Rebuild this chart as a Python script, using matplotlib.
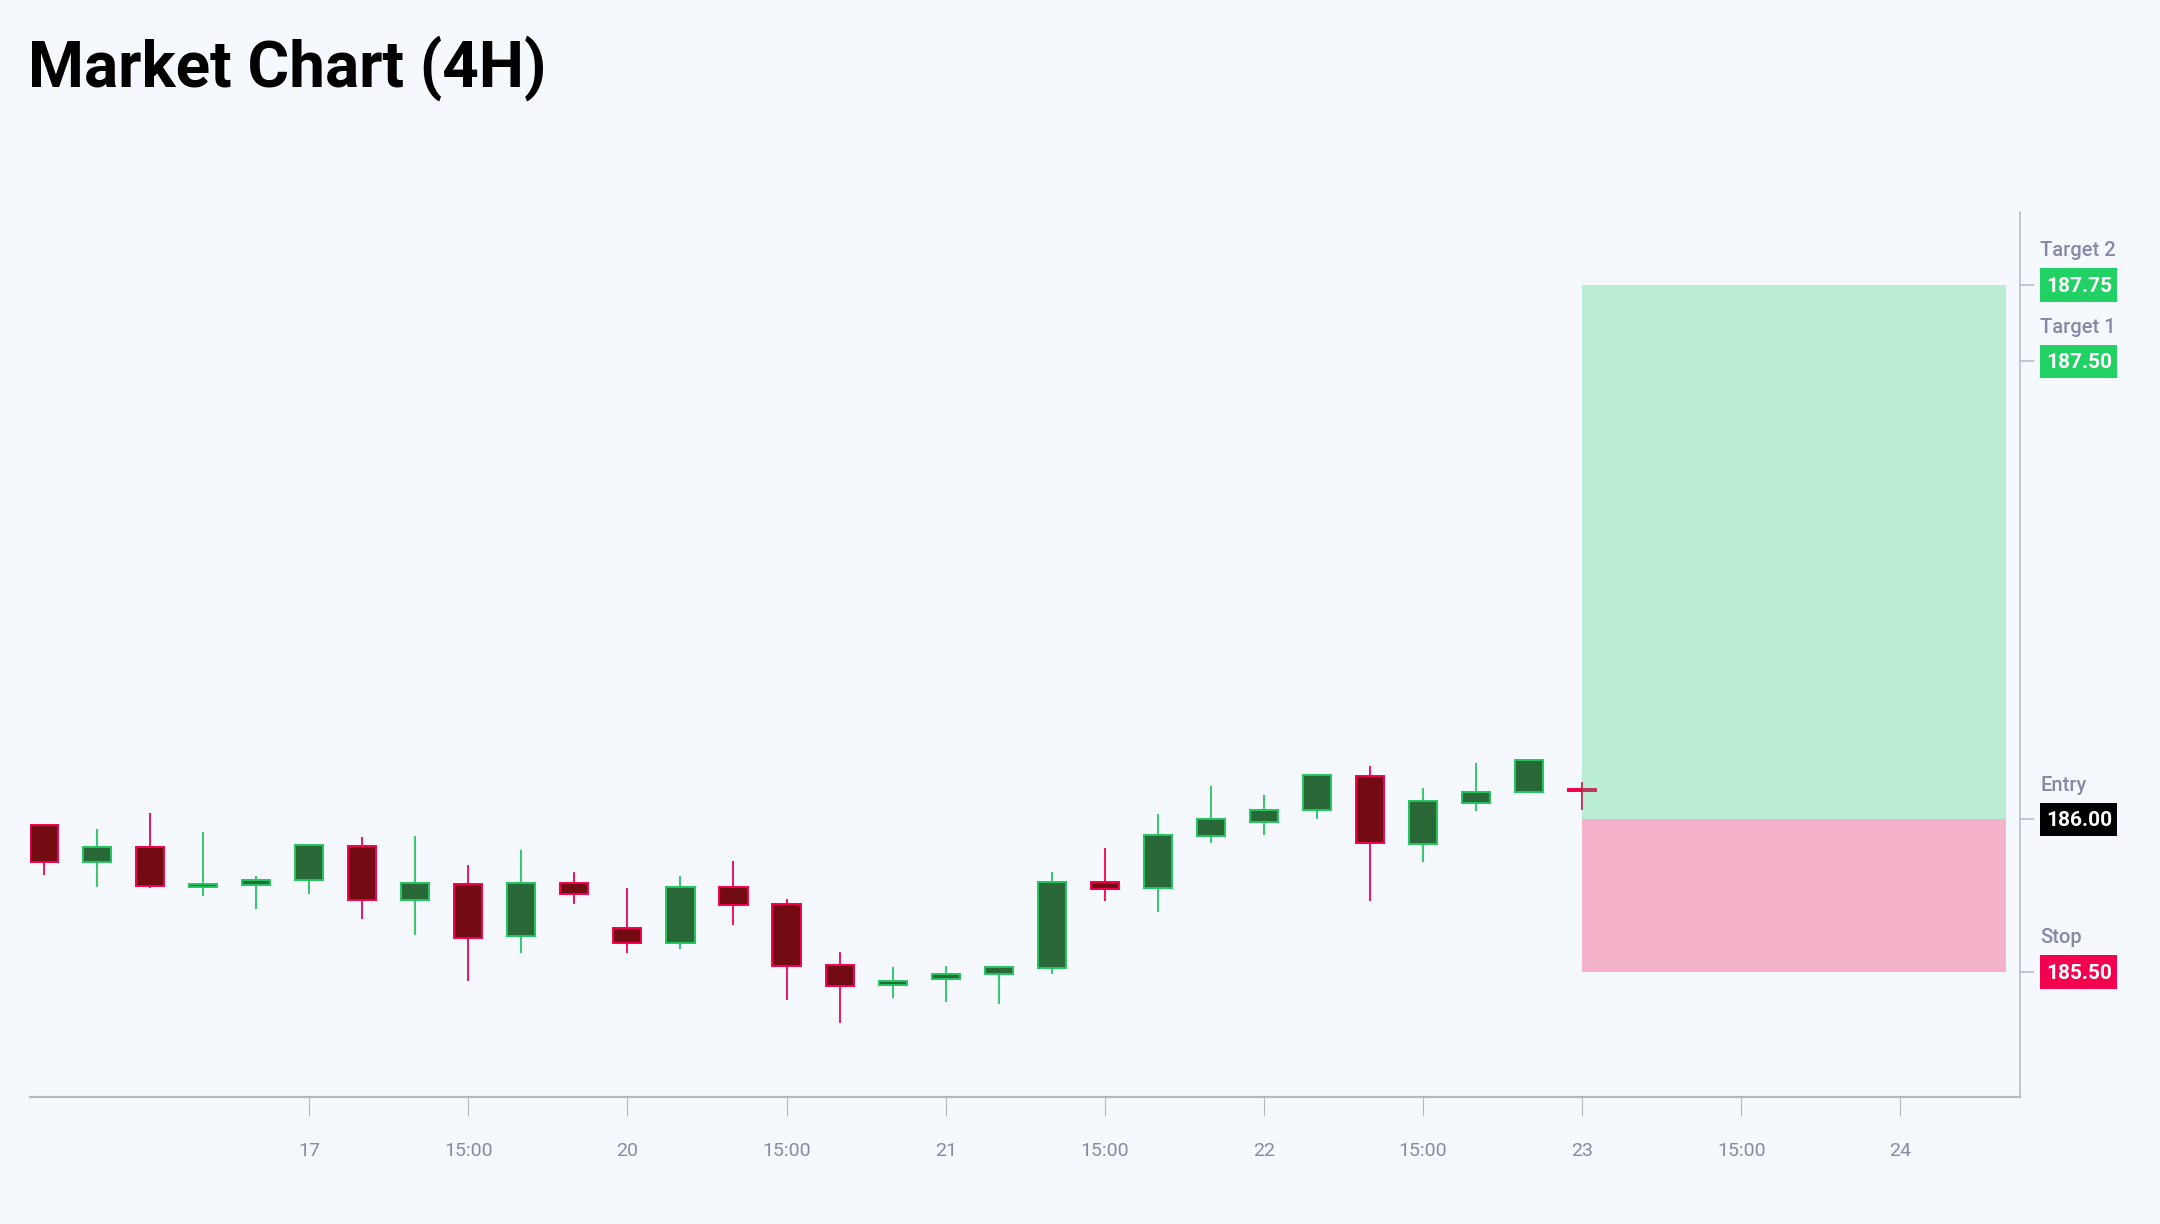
import matplotlib.pyplot as plt
from matplotlib.patches import Rectangle
from matplotlib.transforms import blended_transform_factory

plt.rcParams['font.family'] = ['Roboto', 'DejaVu Sans']

# 4H candles
opens = [185.98, 185.86, 185.91, 185.778, 185.785, 185.803, 185.914, 185.735, 185.789, 185.618,
         185.793, 185.644, 185.596, 185.778, 185.724, 185.522, 185.456, 185.477, 185.493, 185.513,
         185.794, 185.775, 185.945, 185.992, 186.03, 186.143, 185.92, 186.054, 186.089, 186.10]
highs = [185.985, 185.968, 186.021, 185.958, 185.815, 185.919, 185.943, 185.946, 185.85, 185.90,
         185.829, 185.775, 185.814, 185.863, 185.739, 185.566, 185.517, 185.519, 185.521, 185.827,
         185.906, 186.018, 186.11, 186.08, 186.149, 186.176, 186.102, 186.186, 186.194, 186.122]
lows = [185.817, 185.778, 185.775, 185.749, 185.705, 185.756, 185.675, 185.621, 185.471, 185.563,
        185.724, 185.563, 185.575, 185.655, 185.409, 185.334, 185.414, 185.403, 185.395, 185.494,
        185.733, 185.698, 185.921, 185.95, 186.002, 185.733, 185.86, 186.029, 186.086, 186.032]
closes = [185.86, 185.911, 185.783, 185.788, 185.80, 185.915, 185.735, 185.79, 185.613, 185.791,
          185.756, 185.594, 185.779, 185.72, 185.519, 185.454, 185.469, 185.495, 185.518, 185.795,
          185.771, 185.949, 186.002, 186.032, 186.145, 185.922, 186.06, 186.088, 186.194, 186.094]

tick_pos = [5, 8, 11, 14, 17, 20, 23, 26, 29, 32, 35]
tick_labels = ['17', '15:00', '20', '15:00', '21', '15:00', '22', '15:00', '23', '15:00', '24']

entry = 186.00
stop = 185.50
target1 = 187.50
target2 = 187.75
pos_start = 29
pos_end = 37

bg = '#f5f8fc'
up_fill, up_edge = '#2a6837', '#22c55e'
dn_fill, dn_edge = '#720c12', '#f5004f'
grey = '#878aa4'

fig = plt.figure(figsize=(21.6, 12.24), dpi=100)
fig.patch.set_facecolor(bg)
ax = fig.add_axes([0.014, 0.1041, 0.921, 0.7226])
ax.set_facecolor(bg)

x = list(range(len(opens)))
for i in x:
    o, h, l, c = opens[i], highs[i], lows[i], closes[i]
    up = c >= o
    fill = up_fill if up else dn_fill
    edge = up_edge if up else dn_edge
    ax.vlines(i, l, h, color=edge, linewidth=1.3, zorder=2)
    ax.bar(i, max(abs(c - o), 0.004), bottom=min(o, c), width=0.53,
           color=fill, edgecolor=edge, linewidth=1.4, zorder=3)

# long position box
ax.add_patch(Rectangle((pos_start, entry), pos_end - pos_start, target2 - entry,
                       facecolor='#26d16d', alpha=0.28, linewidth=0, zorder=4))
ax.add_patch(Rectangle((pos_start, stop), pos_end - pos_start, entry - stop,
                       facecolor='#f5004f', alpha=0.28, linewidth=0, zorder=4))

ax.set_xlim(-0.26, 37.25)
ax.set_ylim(185.092, 187.989)

for s in ['top', 'left']:
    ax.spines[s].set_visible(False)
ax.spines['bottom'].set_color('#b5b8c1')
ax.spines['bottom'].set_linewidth(1.6)
ax.spines['right'].set_color('#b5b8c1')
ax.spines['right'].set_linewidth(1.1)

ax.set_xticks(tick_pos)
ax.set_xticklabels(tick_labels)
ax.tick_params(axis='x', length=13.5, width=0.8, color='#b5b8c1', pad=19,
               labelsize=14, labelcolor=grey)

ax.yaxis.tick_right()
ax.set_yticks([stop, entry, target1, target2])
ax.set_yticklabels([])
ax.tick_params(axis='y', length=10, width=1.1, color='#b5b8c1')

# price labels on the right
tr = blended_transform_factory(ax.transAxes, ax.transData)
levels = [(target2, 'Target 2', '#22d163'), (target1, 'Target 1', '#22d163'),
          (entry, 'Entry', '#000000'), (stop, 'Stop', '#f5004f')]
bh = 0.11
for price, name, col in levels:
    ax.add_patch(Rectangle((1.0102, price - bh / 2), 0.0387, bh, transform=tr,
                           facecolor=col, linewidth=0, clip_on=False, zorder=5))
    ax.text(1.0298, price - 0.004, f'{price:.2f}', transform=tr, ha='center', va='center',
            color='white', fontsize=15, fontweight='bold', zorder=6, clip_on=False)
    ax.text(1.0105, price + 0.112, name, transform=tr, ha='left', va='center',
            color=grey, fontsize=14.5, fontweight='medium', clip_on=False)

fig.text(0.013, 0.944, 'Market Chart (4H)', ha='left', va='center',
         fontsize=46, fontweight='bold', color='#000000')

fig.savefig('out.png', dpi=100, facecolor=bg)
